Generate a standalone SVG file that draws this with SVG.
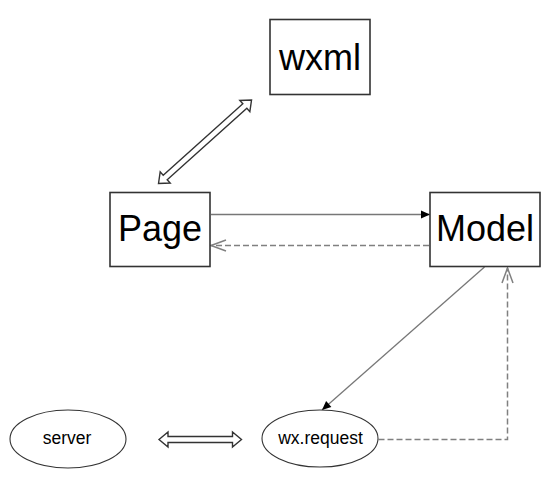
<svg xmlns="http://www.w3.org/2000/svg" width="560" height="488" viewBox="0 0 560 488">
<style>
.box{fill:#fff;stroke:#333;stroke-width:1.6}
.ell{fill:#fff;stroke:#333;stroke-width:1.1}
.big{font-family:"Liberation Sans",Arial,sans-serif;font-size:36px;fill:#000;text-anchor:middle}
.small{font-family:"Liberation Sans",Arial,sans-serif;font-size:17.5px;fill:#000;text-anchor:middle}
.solid{fill:none;stroke:#777;stroke-width:1.3}
.dash{fill:none;stroke:#808080;stroke-width:1.5;stroke-dasharray:6 3}
.dbl{fill:#fff;stroke:#333;stroke-width:1.4;stroke-linejoin:miter}
</style>
<defs>
<marker id="fill" markerUnits="userSpaceOnUse" markerWidth="12" markerHeight="12" refX="9" refY="5" orient="auto" overflow="visible">
<path d="M0,1 L9,5 L0,9 z" fill="#000" stroke="none"/>
</marker>
<marker id="open" markerUnits="userSpaceOnUse" markerWidth="18" markerHeight="14" refX="15" refY="6" orient="auto" overflow="visible">
<path d="M0,0.5 L15,6 L0,11.5" fill="none" stroke="#808080" stroke-width="1.5" stroke-dasharray="none"/>
</marker>
</defs>
<g id="connectors">
<path class="solid" d="M211,214.5 H430" marker-end="url(#fill)"/>
<path class="dash" d="M429,245.5 H211" marker-end="url(#open)"/>
<path class="solid" d="M484.5,267 L322,410" marker-end="url(#fill)"/>
<path class="dash" d="M378.5,439.5 H507.5 V268" marker-end="url(#open)"/>
<polygon class="dbl" transform="translate(158.5,183.5) rotate(-41.9)" points="0,0 9,-7.5 9,-3 116,-3 116,-7.5 125,0 116,7.5 116,3 9,3 9,7.5"/>
<polygon class="dbl" transform="translate(159,439.5)" points="0,0 9,-7.5 9,-3 73.5,-3 73.5,-7.5 82.5,0 73.5,7.5 73.5,3 9,3 9,7.5"/>
</g>
<g id="wxml">
<rect class="box" x="270" y="19.5" width="100" height="75"/>
<text class="big" x="320" y="70">wxml</text>
</g>
<g id="page">
<rect class="box" x="110" y="192.5" width="100" height="74"/>
<text class="big" x="160" y="241">Page</text>
</g>
<g id="model">
<rect class="box" x="430" y="192.5" width="110" height="74"/>
<text class="big" x="485" y="241">Model</text>
</g>
<g id="server">
<ellipse class="ell" cx="68" cy="439" rx="58" ry="29"/>
<text class="small" x="67" y="444">server</text>
</g>
<g id="wxrequest">
<ellipse class="ell" cx="320" cy="438.5" rx="58" ry="28.5"/>
<text class="small" x="320.5" y="443.5">wx.request</text>
</g>
</svg>
